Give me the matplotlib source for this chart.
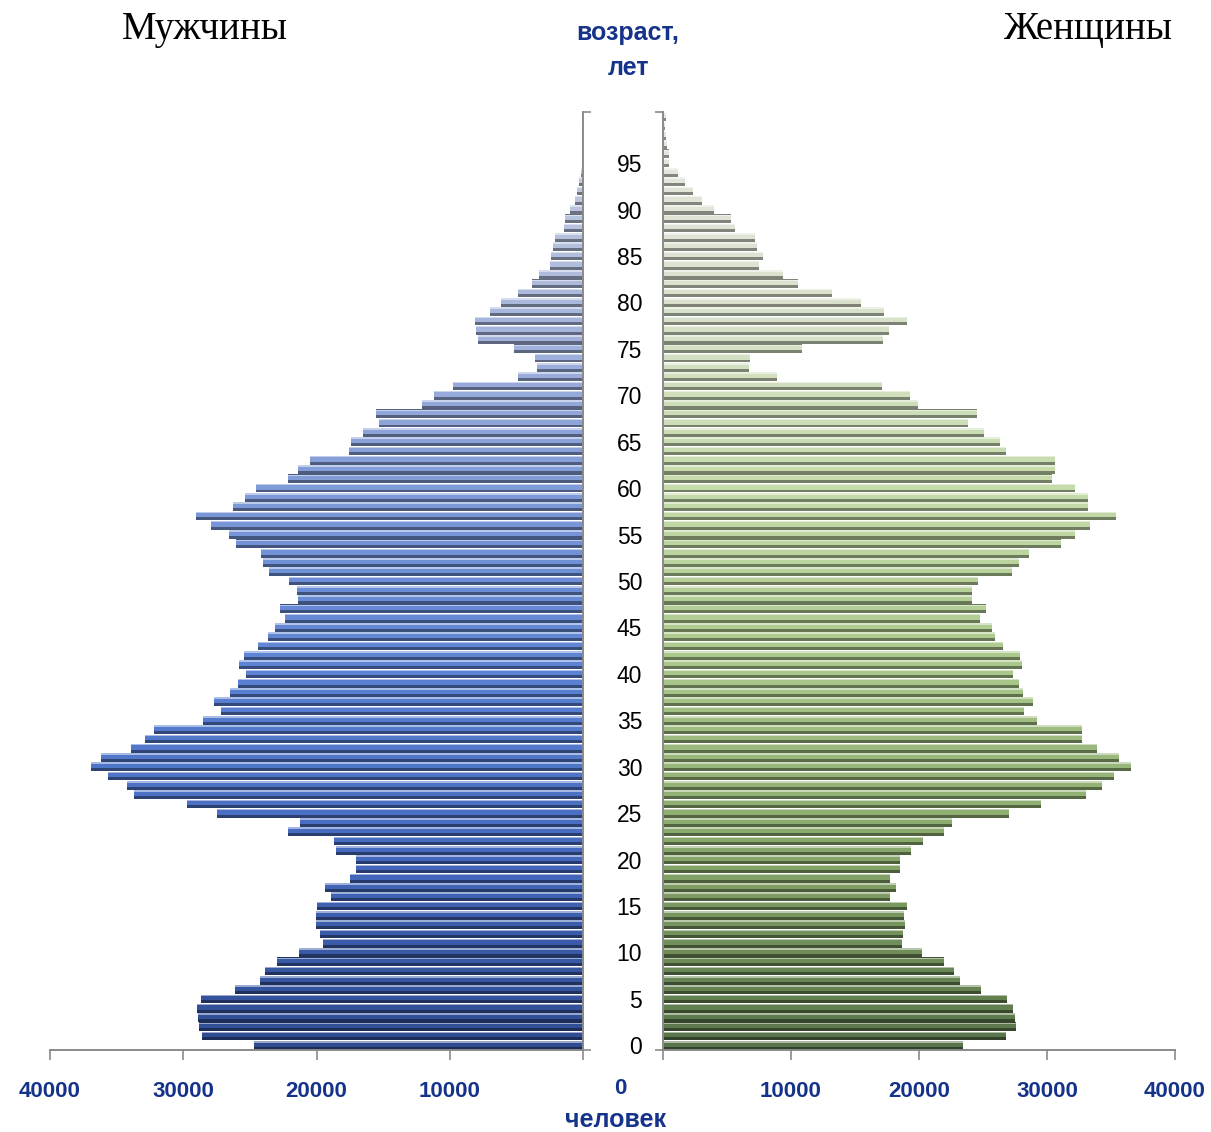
import numpy as np
import matplotlib

matplotlib.use("Agg")
import matplotlib.pyplot as plt
from matplotlib.colors import LinearSegmentedColormap

# population by single year of age, 0 .. 100+
AGES = list(range(101))
MEN = [
    24675, 28575, 28800, 28925, 29000, 28650, 26150, 24275, 23900, 23000,
    21350, 19475, 19700, 20075, 20075, 19925, 18875, 19325, 17450, 17000,
    17000, 18525, 18675, 22125, 21225, 27450, 29700, 33725, 34250, 35675,
    36950, 36200, 33950, 32900, 32225, 28550, 27200, 27725, 26525, 25925,
    25325, 25850, 25475, 24425, 23675, 23150, 22400, 22775, 21425, 21500,
    22050, 23550, 24050, 24200, 26075, 26600, 27950, 29025, 26300, 25400,
    24575, 22175, 21425, 20525, 17525, 17375, 16475, 15275, 15500, 12050,
    11150, 9725, 4850, 3425, 3575, 5150, 7850, 8000, 8075, 6950,
    6125, 4850, 3800, 3275, 2450, 2375, 2250, 2075, 1400, 1325,
    950, 625, 425, 275, 125, 100, 80, 60, 40, 30,
    60,
]
WOMEN = [
    23450, 26800, 27580, 27500, 27340, 26880, 24840, 23200, 22730, 21950,
    20230, 18670, 18750, 18900, 18830, 19060, 17730, 18200, 17730, 18520,
    18520, 19380, 20310, 21950, 22580, 27030, 29530, 33050, 34300, 35230,
    36560, 35630, 33910, 32730, 32730, 29220, 28200, 28910, 28130, 27810,
    27340, 28050, 27890, 26560, 25940, 25700, 24770, 25230, 24140, 24140,
    24610, 27270, 27810, 28590, 31090, 32190, 33360, 35390, 33200, 33200,
    32190, 30390, 30630, 30630, 26800, 26330, 25080, 23830, 24560, 19920,
    19300, 17110, 8910, 6720, 6770, 10860, 17190, 17660, 19060, 17270,
    15470, 13200, 10550, 9380, 7500, 7810, 7340, 7190, 5630, 5310,
    3980, 3050, 2340, 1720, 1170, 450, 450, 300, 200, 150,
    250,
]
X_TICKS = [0, 10000, 20000, 30000, 40000]
X_LABELS = ["", "10000", "20000", "30000", "40000"]
AGE_TICKS = list(range(0, 100, 5))

BLUE_TEXT = "#15338a"
AXIS_GRAY = "#8a8a8a"
SANS = ["Liberation Sans", "DejaVu Sans"]

MEN_CMAP = LinearSegmentedColormap.from_list(
    "men", ["#2f4c92", "#4468bd", "#5b82d4", "#7f9ad8", "#aab8dc", "#c9d0e0"])
WOMEN_CMAP = LinearSegmentedColormap.from_list(
    "women", ["#58744a", "#86a568", "#a9c78a", "#c6dbab", "#d9e1cc", "#e6e8e2"])


def _bevel_bars(ax, values, cmap):
    # Excel-style bevel: light top edge, mid body, dark lower edge
    ages = np.array(AGES)
    vals = np.array(values)
    rgb = cmap(ages / ages.max())[:, :3]
    dark = rgb * 0.58
    light = rgb + (1 - rgb) * 0.5
    ax.barh(ages, vals, height=0.94, color=dark, linewidth=0)
    ax.barh(ages + 0.15, vals, height=0.6, color=rgb, linewidth=0)
    ax.barh(ages + 0.38, vals, height=0.16, color=light, linewidth=0)


def _style(ax, side):
    ax.set_ylim(-0.5, 100.5)
    for name in ("top", "left", "right", "bottom"):
        ax.spines[name].set_visible(False)
    for name in ("bottom", side):
        ax.spines[name].set_visible(True)
        ax.spines[name].set_color(AXIS_GRAY)
        ax.spines[name].set_linewidth(1.4)
    ax.set_xticks(X_TICKS)
    ax.set_xticklabels(X_LABELS, family=SANS, fontweight="bold")
    ax.tick_params(axis="x", direction="out", length=7, width=1.2, color=AXIS_GRAY,
                   pad=15, labelsize=16, labelcolor=BLUE_TEXT)
    ax.set_yticks([-0.5, 100.5], minor=True)
    ax.tick_params(axis="y", which="minor", direction="out", length=6, width=1.2,
                   color=AXIS_GRAY)


def main() -> None:
    fig = plt.figure(figsize=(12.11, 11.32), dpi=100)
    ax_m = fig.add_axes([50 / 1211, 82 / 1132, 533 / 1211, 938 / 1132])
    ax_w = fig.add_axes([663 / 1211, 82 / 1132, 512 / 1211, 938 / 1132])

    _bevel_bars(ax_m, MEN, MEN_CMAP)
    ax_m.set_xlim(40000, 0)
    ax_m.yaxis.tick_right()
    ax_m.set_yticks([])
    _style(ax_m, "right")

    _bevel_bars(ax_w, WOMEN, WOMEN_CMAP)
    ax_w.set_xlim(0, 40000)
    ax_w.set_yticks(AGE_TICKS)
    ax_w.set_yticklabels([str(a) for a in AGE_TICKS], family=SANS, fontsize=16.5)
    ax_w.tick_params(axis="y", which="major", length=0, pad=15)
    _style(ax_w, "left")

    blue = dict(ha="center", va="center", color=BLUE_TEXT, fontweight="bold", family=SANS)
    fig.text(620 / 1211, 1 - 1088 / 1132, "0", fontsize=16, **blue)
    fig.text(616 / 1211, 1 - 1120 / 1132, "человек", fontsize=18, **blue)
    fig.text(628 / 1211, 1 - 33 / 1132, "возраст,", fontsize=18, **blue)
    fig.text(628 / 1211, 1 - 68 / 1132, "лет", fontsize=18, **blue)
    fig.text(205 / 1211, 1 - 30 / 1132, "Мужчины", ha="center", va="center",
             fontsize=28, family="Liberation Serif")
    fig.text(1088 / 1211, 1 - 30 / 1132, "Женщины", ha="center", va="center",
             fontsize=28, family="Liberation Serif")

    fig.savefig("out.png", dpi=100)
    plt.close(fig)


if __name__ == "__main__":
    main()
